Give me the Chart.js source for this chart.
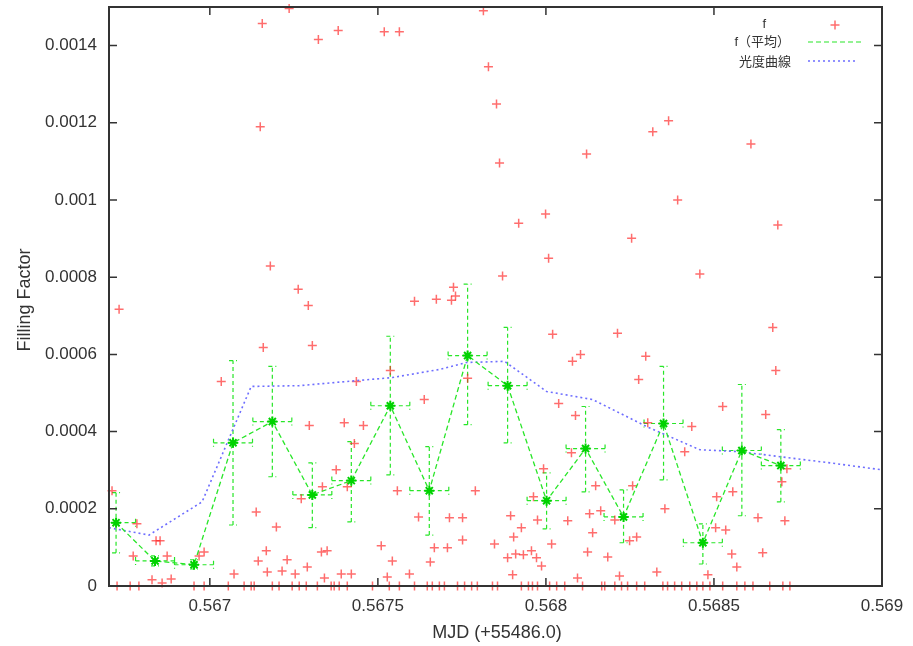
<!DOCTYPE html>
<html>
<head>
<meta charset="utf-8">
<script src="https://cdn.jsdelivr.net/npm/chart.js@4.4.0/dist/chart.umd.min.js"></script>
<style>
html, body { margin: 0; padding: 0; background: #fff; }
canvas { display: block; }
</style>
</head>
<body>
<canvas id="fillingChart" width="913" height="646"></canvas>
<script>
const X_MIN = 0.5667;
const X_MAX = 0.569;
const Y_MIN = 0;
const Y_MAX = 0.0015;

const X_TICKS = [0.567, 0.5675, 0.568, 0.5685, 0.569];
const X_LABELS = ['0.567', '0.5675', '0.568', '0.5685', '0.569'];
const Y_TICKS = [0, 0.0002, 0.0004, 0.0006, 0.0008, 0.001, 0.0012, 0.0014];
const Y_LABELS = ['0', '0.0002', '0.0004', '0.0006', '0.0008', '0.001', '0.0012', '0.0014'];

// f (raw)
const F_X = [
    0.566709, 0.56673, 0.566724, 0.566763, 0.566789, 0.566783, 0.56684, 0.566852, 0.566772, 0.566873,
    0.566968, 0.566983, 0.566828, 0.566885, 0.566858, 0.566953, 0.566983, 0.567034, 0.567055, 0.567072,
    0.567102, 0.567123, 0.567132, 0.567138, 0.567144, 0.56715, 0.567156, 0.567159, 0.567168, 0.567171,
    0.56718, 0.567186, 0.567198, 0.567206, 0.567215, 0.56723, 0.567236, 0.567245, 0.567254, 0.567263,
    0.567266, 0.567272, 0.567287, 0.56729, 0.567293, 0.567296, 0.567305, 0.56732, 0.567323, 0.567332,
    0.567335, 0.567341, 0.567349, 0.567361, 0.56737, 0.567376, 0.567382, 0.567385, 0.567391, 0.5674,
    0.567409, 0.567409, 0.567421, 0.56743, 0.567436, 0.567457, 0.567484, 0.56751, 0.567519, 0.567528,
    0.567534, 0.567537, 0.567543, 0.567558, 0.567564, 0.567564, 0.567594, 0.567609, 0.567609, 0.567621,
    0.567638, 0.567647, 0.567656, 0.567662, 0.567668, 0.567674, 0.567683, 0.567698, 0.567707, 0.567713,
    0.567719, 0.567725, 0.567731, 0.567737, 0.567752, 0.567752, 0.567758, 0.567767, 0.567779, 0.56779,
    0.567796, 0.567814, 0.567829, 0.567841, 0.567847, 0.567853, 0.567856, 0.567862, 0.567871, 0.567886,
    0.567895, 0.567901, 0.567904, 0.56791, 0.567919, 0.567927, 0.567927, 0.567933, 0.567948, 0.567957,
    0.56796, 0.567963, 0.567972, 0.567975, 0.567975, 0.567987, 0.567993, 0.567999, 0.568008, 0.568011,
    0.568017, 0.56802, 0.568032, 0.568038, 0.568056, 0.568065, 0.568076, 0.568079, 0.568088, 0.568094,
    0.568103, 0.568109, 0.568121, 0.568124, 0.56813, 0.568139, 0.568148, 0.568163, 0.568166, 0.568175,
    0.568184, 0.568205, 0.568205, 0.568213, 0.568219, 0.568225, 0.568243, 0.568249, 0.568255, 0.568258,
    0.56827, 0.56827, 0.568276, 0.568294, 0.568297, 0.568303, 0.568318, 0.56833, 0.568348, 0.568354,
    0.568362, 0.568365, 0.568383, 0.568392, 0.568404, 0.568413, 0.568428, 0.568434, 0.568449, 0.568458,
    0.568467, 0.568482, 0.568488, 0.568505, 0.568508, 0.568526, 0.568526, 0.568535, 0.568553, 0.568556,
    0.568568, 0.568568, 0.568592, 0.56861, 0.568616, 0.568631, 0.568645, 0.568654, 0.568666, 0.568675,
    0.568684, 0.56869, 0.568702, 0.568705, 0.568711, 0.568717, 0.568726
];
const F_Y = [
    0.000247, 0.000717, 0, 0, 0, 0.000161, 0.000117, 0.000117, 0.000078, 0.000078,
    0.000078, 0.000088, 0.000016, 0.000018, 0.000008, 0, 0, 0.00053, 0, 0.000031,
    0, 0, 0, 0.000192, 0.000065, 0.00119, 0.001457, 0.000618, 0.000091, 0.000036,
    0.000829, 0, 0.000153, 0, 0.000039, 0.000068, 0.001496, 0, 0.000031, 0.000769,
    0, 0.000226, 0, 0.000049, 0.000727, 0.000416, 0.000623, 0, 0.001416, 0.000088,
    0.000257, 0.000021, 0.000091, 0, 0, 0.000301, 0.001439, 0, 0.000031, 0.000423,
    0.000257, 0, 0.000031, 0.000369, 0.00053, 0.000416, 0, 0.000104, 0.001436, 0.000023,
    0, 0.000558, 0.000065, 0.000247, 0.001436, 0, 0.000031, 0.000738, 0, 0.000179,
    0.000483, 0, 0.000062, 0, 0.000099, 0.000743, 0, 0, 0.000099, 0.000177,
    0.00074, 0.000774, 0.000751, 0, 0.000177, 0.000119, 0, 0.000538, 0, 0.000247,
    0, 0.00149, 0.001345, 0, 0.000109, 0.001249, 0, 0.001096, 0.000803, 0.000073,
    0.000182, 0.000029, 0.000127, 0.000083, 0.00094, 0.000151, 0, 0.000081, 0, 0.000091,
    0, 0.000231, 0.000073, 0, 0.000171, 0.000052, 0.000304, 0.000964, 0.000849, 0,
    0.000109, 0.000652, 0, 0.000473, 0, 0.000169, 0.000345, 0.000582, 0.000442, 0.000021,
    0.0006, 0, 0.001119, 0.000088, 0.000187, 0.000138, 0.00026, 0.000195, 0, 0,
    0.000075, 0.000171, 0, 0.000655, 0.000026, 0, 0, 0.000117, 0.000901, 0.00026,
    0.000127, 0, 0.000535, 0, 0.000595, 0.000423, 0.001177, 0.000036, 0, 0.0002,
    0, 0.001205, 0, 0.001, 0, 0.000348, 0, 0.000413, 0, 0.000808,
    0, 0.000029, 0, 0.000151, 0.000231, 0.000465, 0, 0.000145, 0.000083, 0.000244,
    0.000049, 0, 0, 0.001145, 0, 0.000177, 0.000086, 0.000444, 0, 0.00067,
    0.000558, 0.000935, 0.00027, 0, 0.000169, 0.000304, 0
];

// f (bin average) with error ranges
const AVG_X = [0.566721, 0.566837, 0.566953, 0.567069, 0.567186, 0.567305, 0.567421, 0.567537, 0.567653,
    0.567767, 0.567886, 0.568002, 0.568118, 0.568231, 0.56835, 0.568467, 0.568583, 0.568699];
const AVG_Y = [0.000164, 0.000065, 0.000055, 0.000371, 0.000426, 0.000236, 0.000273, 0.000467, 0.000247,
    0.000597, 0.000519, 0.000221, 0.000356, 0.000179, 0.000421, 0.000112, 0.000351, 0.000312];
const AVG_LO = [0.000086, 0.000052, 0.000044, 0.000158, 0.000283, 0.000151, 0.000166, 0.000288, 0.000132,
    0.000418, 0.000371, 0.000148, 0.000244, 0.000112, 0.000275, 0.000057, 0.000182, 0.000218];
const AVG_HI = [0.000242, 0.000078, 0.000068, 0.000584, 0.000569, 0.000319, 0.000374, 0.000647, 0.000361,
    0.000782, 0.00067, 0.000293, 0.000465, 0.000249, 0.000569, 0.000161, 0.000522, 0.000405];
const AVG_DX = 0.000058;

// light curve (scaled)
const LC_X = [0.5667, 0.566819, 0.566977, 0.567123, 0.567266, 0.567436, 0.567543, 0.567683, 0.567764,
    0.567877, 0.568002, 0.568139, 0.5683, 0.568458, 0.568577, 0.568696, 0.568845, 0.569];
const LC_Y = [0.000151, 0.000132, 0.000218, 0.000517, 0.000519, 0.000532, 0.00054, 0.000561, 0.000579,
    0.000582, 0.000504, 0.000483, 0.000413, 0.000353, 0.000348, 0.000335, 0.000319, 0.000301];

const RED = 'rgba(255, 30, 30, 0.65)';
const GREEN = 'rgb(40, 230, 40)';
const GREEN_PT = 'rgb(0, 210, 0)';
const BLUE = 'rgb(110, 110, 255)';
const TEXT = '#333';
const FONT = '"Liberation Sans", Arial, sans-serif';

function toPoints(xs, ys) {
    return xs.map((v, i) => ({ x: v, y: ys[i] }));
}

const errorBars = {
    id: 'errorBars',
    beforeDatasetsDraw(chart) {
        const { ctx, chartArea, scales: { x, y } } = chart;
        ctx.save();
        ctx.beginPath();
        ctx.rect(chartArea.left, chartArea.top, chartArea.width, chartArea.height);
        ctx.clip();
        ctx.strokeStyle = GREEN;
        ctx.lineWidth = 1.2;
        ctx.setLineDash([4, 3]);
        for (let i = 0; i < AVG_X.length; i++) {
            const px = x.getPixelForValue(AVG_X[i]);
            const py = y.getPixelForValue(AVG_Y[i]);
            const x0 = x.getPixelForValue(AVG_X[i] - AVG_DX);
            const x1 = x.getPixelForValue(AVG_X[i] + AVG_DX);
            const y0 = y.getPixelForValue(AVG_LO[i]);
            const y1 = y.getPixelForValue(AVG_HI[i]);
            ctx.beginPath();
            ctx.moveTo(px, y0); ctx.lineTo(px, y1);
            ctx.moveTo(px - 4, y0); ctx.lineTo(px + 4, y0);
            ctx.moveTo(px - 4, y1); ctx.lineTo(px + 4, y1);
            ctx.moveTo(x0, py); ctx.lineTo(x1, py);
            ctx.moveTo(x0, py - 4); ctx.lineTo(x0, py + 4);
            ctx.moveTo(x1, py - 4); ctx.lineTo(x1, py + 4);
            ctx.stroke();
        }
        ctx.restore();
    }
};

const frameAndKey = {
    id: 'frameAndKey',
    afterDraw(chart) {
        const { ctx, chartArea: a, scales: { x, y } } = chart;
        ctx.save();
        ctx.strokeStyle = '#333';
        ctx.lineWidth = 2;
        ctx.strokeRect(a.left, a.top, a.right - a.left, a.bottom - a.top);

        // inward ticks on all four sides
        ctx.lineWidth = 1.5;
        ctx.beginPath();
        for (const v of X_TICKS) {
            const px = x.getPixelForValue(v);
            ctx.moveTo(px, a.bottom); ctx.lineTo(px, a.bottom - 8);
            ctx.moveTo(px, a.top); ctx.lineTo(px, a.top + 8);
        }
        for (const v of Y_TICKS) {
            const py = y.getPixelForValue(v);
            ctx.moveTo(a.left, py); ctx.lineTo(a.left + 8, py);
            ctx.moveTo(a.right, py); ctx.lineTo(a.right - 8, py);
        }
        ctx.stroke();

        // axis titles
        ctx.fillStyle = TEXT;
        ctx.font = '18px ' + FONT;
        ctx.textAlign = 'center';
        ctx.textBaseline = 'middle';
        ctx.fillText('MJD (+55486.0)', 497, 633);
        ctx.save();
        ctx.translate(25, 300);
        ctx.rotate(-Math.PI / 2);
        ctx.fillText('Filling Factor', 0, 0);
        ctx.restore();

        // key
        ctx.font = '13px "Liberation Sans", "Noto Sans CJK JP", sans-serif';
        ctx.textAlign = 'right';
        ctx.fillText('f', 766, 24);
        ctx.fillText('f（平均）', 790, 42);
        ctx.fillText('光度曲線', 791, 62);

        ctx.strokeStyle = RED;
        ctx.lineWidth = 1.5;
        ctx.beginPath();
        ctx.moveTo(830.5, 25); ctx.lineTo(839.5, 25);
        ctx.moveTo(835, 20.5); ctx.lineTo(835, 29.5);
        ctx.stroke();

        ctx.strokeStyle = GREEN;
        ctx.lineWidth = 1.2;
        ctx.setLineDash([5, 3]);
        ctx.beginPath();
        ctx.moveTo(808, 42); ctx.lineTo(862, 42);
        ctx.stroke();

        ctx.strokeStyle = BLUE;
        ctx.lineWidth = 1.6;
        ctx.setLineDash([2, 3]);
        ctx.beginPath();
        ctx.moveTo(808, 61); ctx.lineTo(858, 61);
        ctx.stroke();
        ctx.restore();
    }
};

const data = {
    datasets: [
        {
            label: 'f',
            data: toPoints(F_X, F_Y),
            showLine: false,
            pointStyle: 'cross',
            pointRadius: 4.5,
            borderColor: RED,
            backgroundColor: RED,
            borderWidth: 1.5,
            clip: false,
            order: 3
        },
        {
            label: 'f（平均）',
            data: toPoints(AVG_X, AVG_Y),
            showLine: true,
            borderColor: GREEN,
            borderWidth: 1.3,
            borderDash: [5, 3],
            pointStyle: 'star',
            pointRadius: 5,
            pointBorderColor: GREEN_PT,
            pointBorderWidth: 2,
            pointBackgroundColor: GREEN_PT,
            order: 1
        },
        {
            label: '光度曲線',
            data: toPoints(LC_X, LC_Y),
            showLine: true,
            borderColor: BLUE,
            borderWidth: 1.6,
            borderDash: [2, 3],
            pointRadius: 0,
            order: 2
        }
    ]
};

const config = {
    type: 'scatter',
    data: data,
    plugins: [errorBars, frameAndKey],
    options: {
        responsive: false,
        animation: false,
        layout: { padding: { top: 7, right: 31, left: 0, bottom: 0 } },
        plugins: { legend: { display: false }, tooltip: { enabled: false } },
        scales: {
            x: {
                type: 'linear',
                min: X_MIN,
                max: X_MAX,
                grid: { display: false, drawTicks: false },
                border: { display: false },
                afterFit(scale) {
                    scale.height = 60;
                    scale.paddingLeft = 0;
                    scale.paddingRight = 0;
                },
                afterBuildTicks(scale) { scale.ticks = X_TICKS.map(v => ({ value: v })); },
                ticks: {
                    padding: 10,
                    color: TEXT,
                    autoSkip: false,
                    maxRotation: 0,
                    font: { family: FONT, size: 17 },
                    callback: (v, i) => X_LABELS[i]
                }
            },
            y: {
                type: 'linear',
                min: Y_MIN,
                max: Y_MAX,
                grid: { display: false, drawTicks: false },
                border: { display: false },
                afterFit(scale) {
                    scale.width = 109;
                    scale.paddingTop = 0;
                    scale.paddingBottom = 0;
                },
                afterBuildTicks(scale) { scale.ticks = Y_TICKS.map(v => ({ value: v })); },
                ticks: {
                    padding: 12,
                    color: TEXT,
                    autoSkip: false,
                    font: { family: FONT, size: 17 },
                    callback: (v, i) => Y_LABELS[i]
                }
            }
        }
    }
};

const fillingChart = new Chart(document.getElementById('fillingChart'), config);
</script>
</body>
</html>
